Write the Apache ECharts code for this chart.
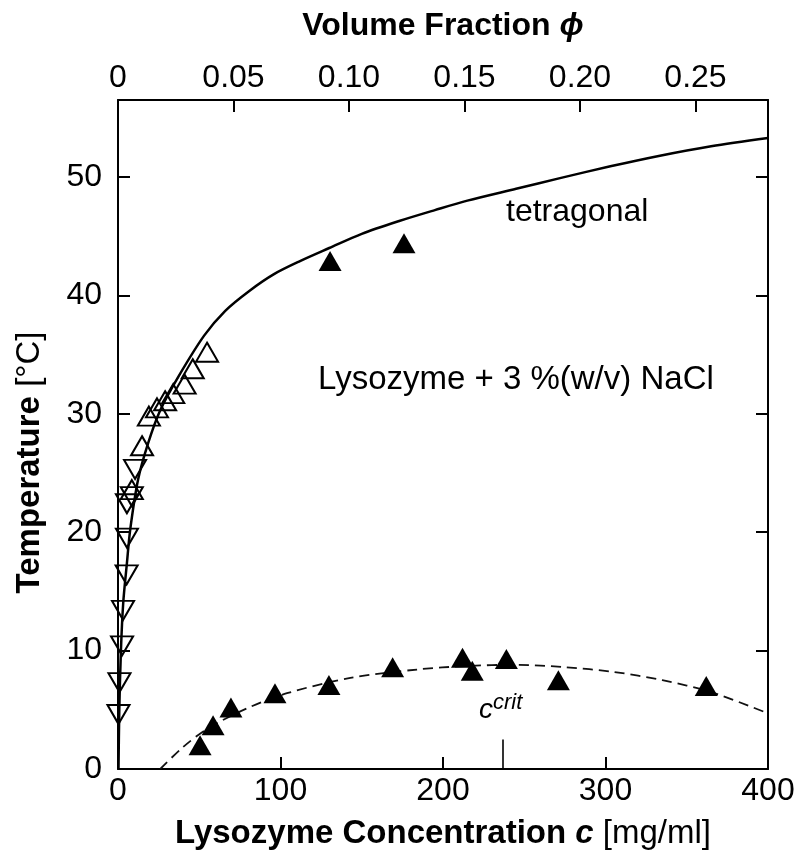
<!DOCTYPE html>
<html>
<head>
<meta charset="utf-8">
<script src="https://cdn.jsdelivr.net/npm/echarts@6/dist/echarts.min.js"></script>
<style>
  html, body { margin: 0; padding: 0; background: #fff; }
  #chart { width: 800px; height: 861px; }
</style>
</head>
<body>
<div id="chart"></div>
<script>
// lysozyme + NaCl phase diagram
var myChart = echarts.init(document.getElementById('chart'))

// solid curve (tetragonal liquidus)
var lineC = [0.3, 0.8, 1.8, 3.2, 5.5, 7.5, 12.3, 18.5, 26, 37, 53, 66, 81, 96, 112, 130, 150, 173.5, 195, 215, 245, 272, 303, 333.5, 365, 400]
var lineT = [0, 5, 10, 14, 17.4, 20.2, 24.4, 27.5, 30.3, 33.1, 36.6, 38.7, 40.4, 41.8, 42.9, 44, 45.2, 46.3, 47.2, 48, 49, 49.9, 50.9, 51.8, 52.6, 53.3]

// dashed curve (c crit)
var dashC = [26, 40, 55, 79, 104, 143, 184, 215, 245, 275, 305, 335, 365, 400]
var dashT = [0, 1.85, 3.4, 5.1, 6.4, 7.7, 8.4, 8.7, 8.8, 8.6, 8.2, 7.5, 6.5, 4.7]

// open triangles, pointing up
var upC = [54.8, 46, 41, 34, 29, 24, 19, 14.8, 8.5]
var upT = [35.2, 33.8, 32.5, 31.7, 31.1, 30.5, 29.8, 27.3, 23.6]

// open triangles, pointing down
var downC = [10.5, 8.5, 5.5, 5.5, 5.3, 3.1, 2.5, 0.9, 0.3]
var downT = [25.3, 23.0, 22.4, 19.5, 16.4, 13.4, 10.4, 7.3, 4.6]

// filled triangles
var fillC = [130.5, 176, 50.5, 58.5, 69.5, 96.6, 129.8, 169, 212, 218, 239, 271, 362]
var fillT = [42.9, 44.4, 2.0, 3.7, 5.2, 6.4, 7.1, 8.6, 9.4, 8.3, 9.3, 7.5, 7.0]

// short vertical mark at c crit: [c, top T]
var critMark = [237, 2.5]

// axes: [min, max, interval]
var xTicks = [0, 400, 100]
var phiTicks = [0, 0.2814, 0.05]
var yTicks = [0, 56.5, 10]

function pairs(xs, ys) {
    return xs.map(function (x, i) { return [x, ys[i]] })
}

var font = 'Liberation Sans'
var black = '#000'

var axisCommon = {
    axisLine: { onZero: false, lineStyle: { color: black, width: 2 } },
    axisTick: { inside: true, length: 12, lineStyle: { color: black, width: 2 } },
    splitLine: { show: false },
    axisLabel: { color: black, fontFamily: font, fontSize: 32 }
}

function axis(extra) {
    return echarts.util.merge(echarts.util.clone(axisCommon), extra, true)
}

var option = {
    backgroundColor: '#fff',
    animation: false,
    grid: { left: 118, right: 32, top: 100, bottom: 92 },
    xAxis: [
        axis({
            type: 'value', position: 'bottom',
            min: xTicks[0], max: xTicks[1], interval: xTicks[2],
            axisLabel: { margin: 6 },
            name: '{b|Lysozyme Concentration }{bi|c}{r| [mg/ml]}',
            nameLocation: 'middle', nameGap: 48,
            nameTextStyle: {
                rich: {
                    b: { fontFamily: font, fontSize: 33, fontWeight: 'bold', color: black },
                    bi: { fontFamily: font, fontSize: 33, fontWeight: 'bold', fontStyle: 'italic', color: black },
                    r: { fontFamily: font, fontSize: 33, color: black }
                }
            }
        }),
        axis({
            type: 'value', position: 'top',
            min: phiTicks[0], max: phiTicks[1], interval: phiTicks[2],
            axisLabel: {
                margin: 6, showMaxLabel: false,
                formatter: function (v) { return v === 0 ? '0' : v.toFixed(2) }
            },
            name: '{b|Volume Fraction }{bi|ϕ}',
            nameLocation: 'middle', nameGap: 58,
            nameTextStyle: {
                rich: {
                    b: { fontFamily: font, fontSize: 32, fontWeight: 'bold', color: black },
                    bi: { fontFamily: font, fontSize: 32, fontWeight: 'bold', fontStyle: 'italic', color: black }
                }
            }
        })
    ],
    yAxis: [
        axis({
            type: 'value', position: 'left',
            min: yTicks[0], max: yTicks[1], interval: yTicks[2],
            axisLabel: { margin: 16, showMaxLabel: false },
            name: '{b|Temperature }{r|[°C]}',
            nameLocation: 'middle', nameGap: 72,
            nameTextStyle: {
                padding: [0, 56, 0, 0],
                rich: {
                    b: { fontFamily: font, fontSize: 33, fontWeight: 'bold', color: black },
                    r: { fontFamily: font, fontSize: 33, color: black }
                }
            }
        }),
        axis({
            type: 'value', position: 'right',
            min: yTicks[0], max: yTicks[1], interval: yTicks[2],
            axisLabel: { show: false }
        })
    ],
    series: [
        {
            name: 'tetragonal', type: 'line', xAxisIndex: 0, yAxisIndex: 0,
            data: pairs(lineC, lineT), smooth: 0.3, showSymbol: false,
            lineStyle: { color: black, width: 2.5 }, z: 2
        },
        {
            name: 'crit', type: 'line', xAxisIndex: 0, yAxisIndex: 0,
            data: pairs(dashC, dashT), smooth: 0.3, showSymbol: false,
            lineStyle: { color: '#111', width: 1.8, type: [10, 6] }, z: 2,
            markLine: {
                silent: true, symbol: 'none', label: { show: false },
                lineStyle: { color: black, width: 1.6, type: 'solid' },
                data: [[{ coord: [critMark[0], 0] }, { coord: [critMark[0], critMark[1]] }]]
            }
        },
        {
            name: 'up', type: 'scatter', xAxisIndex: 0, yAxisIndex: 0,
            data: pairs(upC, upT), symbol: 'triangle', symbolSize: [22, 19],
            itemStyle: { color: 'transparent', borderColor: black, borderWidth: 2, opacity: 1 }, z: 3
        },
        {
            name: 'down', type: 'scatter', xAxisIndex: 0, yAxisIndex: 0,
            data: pairs(downC, downT), symbol: 'triangle', symbolRotate: 180, symbolSize: [22, 19],
            itemStyle: { color: 'transparent', borderColor: black, borderWidth: 2, opacity: 1 }, z: 3
        },
        {
            name: 'filled', type: 'scatter', xAxisIndex: 0, yAxisIndex: 0,
            data: pairs(fillC, fillT), symbol: 'triangle', symbolSize: [23, 20],
            itemStyle: { color: black, opacity: 1 }, z: 4
        }
    ],
    graphic: [
        {
            type: 'text', left: 506, top: 196, z: 10,
            style: { text: 'tetragonal', fontFamily: font, fontSize: 32, fill: black }
        },
        {
            type: 'text', left: 318, top: 363, z: 10,
            style: { text: 'Lysozyme + 3 %(w/v) NaCl', fontFamily: font, fontSize: 33, fill: black }
        },
        {
            type: 'text', left: 479, top: 692, z: 10,
            style: {
                text: '{c|c}{s|crit}',
                rich: {
                    c: { fontFamily: font, fontSize: 28, fontStyle: 'italic', fill: black, verticalAlign: 'bottom' },
                    s: { fontFamily: font, fontSize: 22, fontStyle: 'italic', fill: black, verticalAlign: 'top', padding: [0, 0, 10, 0] }
                }
            }
        }
    ]
}

myChart.setOption(option)
</script>
</body>
</html>
